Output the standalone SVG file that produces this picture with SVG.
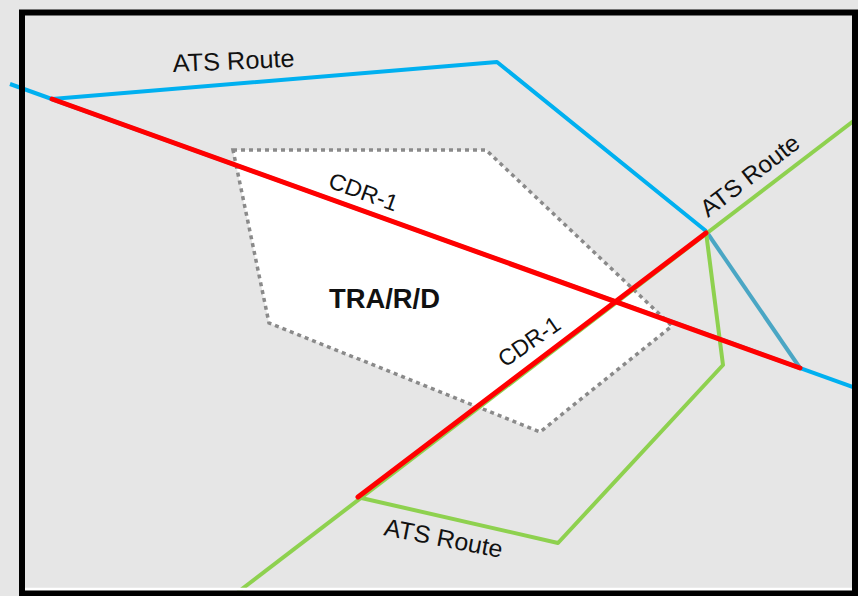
<svg xmlns="http://www.w3.org/2000/svg" width="858" height="596" viewBox="0 0 858 596">
  <style>
    .lbl { font-family: "Liberation Sans", Arial, sans-serif; fill: #111; }
    .blue { stroke: #00b0f0; stroke-width: 4; fill: none; stroke-linejoin: round; }
    .steel { stroke: #4aa6c4; stroke-width: 4; fill: none; }
    .green { stroke: #8ed14f; stroke-width: 4; fill: none; stroke-linejoin: round; }
    .red { stroke: #ff0000; stroke-width: 5; fill: none; stroke-linecap: round; }
  </style>
  <rect x="0" y="0" width="858" height="596" fill="#e6e6e6"/>

  <g id="tra-r-d">
    <polygon points="233,150 486,150 672,326 540,432 269,323" fill="#ffffff" stroke="#8a8a8a" stroke-width="3.5" stroke-dasharray="4 4"/>
    <text class="lbl" x="329" y="308" font-size="27.5" font-weight="bold" textLength="111" lengthAdjust="spacingAndGlyphs">TRA/R/D</text>
  </g>

  <g id="connectors">
    <g id="ats-route-blue">
      <line class="blue" x1="10" y1="84" x2="860" y2="389.5"/>
      <polyline class="blue" points="52,99 497,62 706,231"/>
      <line class="steel" x1="706" y1="231" x2="800" y2="368"/>
    </g>
    <g id="ats-route-green">
      <line class="green" x1="238" y1="592" x2="858" y2="117.5"/>
      <polyline class="green" points="706,232 723,365 558,543 357,497"/>
    </g>
    <g id="cdr-1-a">
      <line class="red" x1="52" y1="99" x2="800" y2="368"/>
    </g>
    <g id="cdr-1-b">
      <line class="red" x1="358" y1="497" x2="706" y2="233"/>
    </g>
  </g>

  <g id="labels">
    <text class="lbl" x="173" y="72" font-size="25" textLength="122" lengthAdjust="spacingAndGlyphs" transform="rotate(-2.5 173 72)">ATS Route</text>
    <text class="lbl" x="327" y="187" font-size="23" textLength="72" lengthAdjust="spacingAndGlyphs" transform="rotate(20 327 187)">CDR-1</text>
    <text class="lbl" x="505" y="368" font-size="23" textLength="70" lengthAdjust="spacingAndGlyphs" transform="rotate(-35 505 368)">CDR-1</text>
    <text class="lbl" x="708" y="218" font-size="24" textLength="118" lengthAdjust="spacingAndGlyphs" transform="rotate(-37.5 708 218)">ATS Route</text>
    <text class="lbl" x="383" y="535" font-size="24.5" textLength="120" lengthAdjust="spacingAndGlyphs" transform="rotate(11 383 535)">ATS Route</text>
  </g>

  <g id="frame">
    <line x1="25" y1="589.3" x2="852" y2="589.3" stroke="#ffffff" stroke-width="3"/>
    <rect x="22" y="12.5" width="833" height="581" fill="none" stroke="#000000" stroke-width="6"/>
  </g>
</svg>
